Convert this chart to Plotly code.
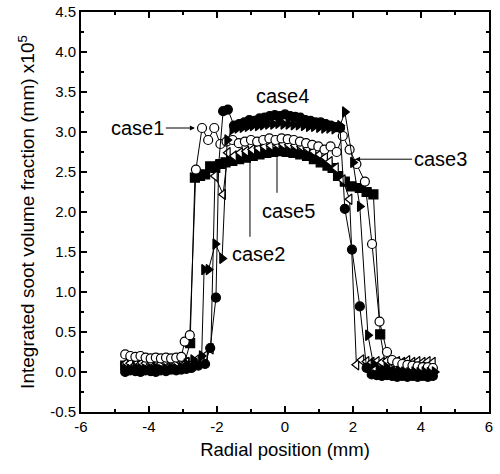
import plotly.graph_objects as go

# Radial profiles of integrated soot volume fraction, (mm) x10^5
case1_x = [-4.70, -4.55, -4.40, -4.25, -4.10, -3.95, -3.80, -3.65, -3.50, -3.35, -3.20, -3.05,
           -2.95, -2.80, -2.62, -2.44, -2.26, -2.08, -1.90, -1.72, -1.54, -1.36, -1.18, -1.00,
           -0.82, -0.64, -0.46, -0.28, -0.10, 0.08, 0.26, 0.44, 0.62, 0.80, 0.98, 1.16, 1.34,
           1.52, 1.70, 1.90, 2.10, 2.35, 2.56, 2.78, 3.00, 3.15, 3.30, 3.45, 3.60, 3.75, 3.90,
           4.05, 4.20, 4.35]
case1_y = [0.22, 0.20, 0.19, 0.20, 0.18, 0.17, 0.18, 0.17, 0.18, 0.17, 0.18, 0.19,
           0.38, 0.46, 2.53, 3.05, 2.90, 3.05, 2.85, 2.88, 2.90, 2.86, 2.88, 2.90,
           2.88, 2.90, 2.92, 2.90, 2.92, 2.91, 2.90, 2.88, 2.86, 2.84, 2.82, 2.78, 2.82,
           2.75, 2.95, 2.78, 2.60, 2.38, 1.60, 0.63, 0.25, 0.15, 0.12, 0.10, 0.09, 0.08, 0.07,
           0.06, 0.06, 0.05]

case2_x = [-4.70, -4.55, -4.40, -4.25, -4.10, -3.95, -3.80, -3.65, -3.50, -3.35, -3.20, -3.05,
           -2.90, -2.70, -2.45, -2.38, -2.25, -2.05, -1.85, -1.70, -1.55, -1.40, -1.25, -1.10,
           -0.95, -0.80, -0.65, -0.50, -0.35, -0.20, -0.05, 0.10, 0.25, 0.40, 0.55, 0.70, 0.85,
           1.00, 1.15, 1.30, 1.45, 1.62, 1.76, 2.00, 2.20, 2.44, 2.60, 2.75, 2.90, 3.05, 3.20,
           3.35, 3.50, 3.65, 3.80, 3.95, 4.10, 4.25, 4.40]
case2_y = [0.04, 0.03, 0.05, 0.04, 0.03, 0.04, 0.05, 0.03, 0.04, 0.05, 0.04, 0.06,
           0.10, 0.15, 0.20, 1.28, 1.28, 1.60, 1.42, 2.90, 3.03, 3.05, 3.06, 3.07,
           3.08, 3.08, 3.09, 3.10, 3.10, 3.11, 3.10, 3.10, 3.09, 3.09, 3.08, 3.07, 3.07,
           3.06, 3.05, 3.05, 3.04, 3.08, 3.25, 2.62, 2.07, 0.46, 0.10, 0.03, 0.02, 0.01, 0.00,
           0.01, 0.00, -0.01, 0.00, -0.01, 0.00, -0.01, 0.00]

case3_x = [-4.70, -4.55, -4.40, -4.25, -4.10, -3.95, -3.80, -3.65, -3.50, -3.35, -3.20, -3.05,
           -2.95, -2.79, -2.65, -2.50, -2.35, -2.20, -2.05, -1.90, -1.75, -1.55, -1.35, -1.15,
           -0.95, -0.75, -0.55, -0.35, -0.15, 0.05, 0.25, 0.45, 0.65, 0.85, 1.05, 1.25, 1.40,
           1.56, 1.76, 1.95, 2.20, 2.40, 2.60, 2.80, 2.95, 3.10, 3.25, 3.40, 3.55, 3.70, 3.85,
           4.00, 4.15, 4.30]
case3_y = [0.08, 0.07, 0.09, 0.08, 0.07, 0.08, 0.09, 0.08, 0.07, 0.08, 0.09, 0.10,
           0.12, 0.36, 2.43, 2.45, 2.47, 2.57, 2.55, 2.60, 2.62, 2.64, 2.66, 2.68,
           2.70, 2.72, 2.74, 2.75, 2.76, 2.75, 2.74, 2.72, 2.70, 2.66, 2.62, 2.58, 2.55,
           2.45, 2.38, 2.32, 2.30, 2.25, 2.22, 0.47, 0.10, 0.00, -0.02, -0.01, -0.02, -0.03, -0.02,
           -0.03, -0.02, -0.03]

case4_x = [-4.70, -4.55, -4.40, -4.25, -4.10, -3.95, -3.80, -3.65, -3.50, -3.35, -3.20, -3.05,
           -2.90, -2.75, -2.55, -2.35, -2.20, -2.03, -1.95, -1.82, -1.68, -1.50, -1.35, -1.20,
           -1.05, -0.90, -0.75, -0.60, -0.45, -0.30, -0.15, 0.00, 0.15, 0.30, 0.45, 0.60, 0.75,
           0.90, 1.05, 1.20, 1.35, 1.50, 1.62, 1.76, 1.97, 2.20, 2.40, 2.55, 2.70, 2.85, 3.00,
           3.15, 3.30, 3.45, 3.60, 3.75, 3.90, 4.05, 4.20, 4.35]
case4_y = [0.00, 0.02, 0.01, 0.00, 0.02, 0.01, 0.00, 0.02, 0.01, 0.03, 0.02, 0.03,
           0.04, 0.05, 0.08, 0.10, 0.30, 0.93, 2.60, 3.26, 3.28, 3.08, 3.10, 3.12,
           3.15, 3.14, 3.17, 3.18, 3.20, 3.21, 3.20, 3.22, 3.20, 3.19, 3.18, 3.15, 3.14,
           3.12, 3.12, 3.10, 3.08, 3.06, 3.05, 2.04, 1.53, 0.82, 0.05, -0.03, -0.04, -0.05, -0.04,
           -0.05, -0.06, -0.05, -0.06, -0.05, -0.06, -0.05, -0.06, -0.05]

case5_x = [-4.70, -4.55, -4.40, -4.25, -4.10, -3.95, -3.80, -3.65, -3.50, -3.35, -3.20, -3.05,
           -2.90, -2.60, -2.35, -2.18, -2.06, -1.82, -1.68, -1.50, -1.32, -1.14, -0.96, -0.78,
           -0.60, -0.42, -0.24, -0.06, 0.12, 0.30, 0.48, 0.66, 0.84, 1.02, 1.18, 1.32, 1.50,
           1.70, 1.90, 2.10, 2.25, 2.40, 2.55, 2.70, 2.85, 3.00, 3.15, 3.30, 3.45, 3.60, 3.75,
           3.90, 4.05, 4.20, 4.35]
case5_y = [0.10, 0.11, 0.09, 0.10, 0.11, 0.10, 0.09, 0.10, 0.11, 0.10, 0.11, 0.12,
           0.12, 0.15, 0.20, 0.29, 2.45, 2.22, 2.74, 2.70, 2.74, 2.76, 2.78, 2.80,
           2.82, 2.83, 2.85, 2.85, 2.84, 2.83, 2.82, 2.80, 2.76, 2.72, 2.68, 2.63, 2.55,
           2.40, 2.16, 0.09, 0.15, 0.13, 0.12, 0.13, 0.12, 0.14, 0.12, 0.13, 0.12, 0.14, 0.12,
           0.13, 0.12, 0.13, 0.12]

x_ticks = [-6, -4, -2, 0, 2, 4, 6]
x_tick_text = ["-6", "-4", "-2", "0", "2", "4", "6"]
y_ticks = [-0.5, 0.0, 0.5, 1.0, 1.5, 2.0, 2.5, 3.0, 3.5, 4.0, 4.5]
y_tick_text = ["-0.5", "0.0", "0.5", "1.0", "1.5", "2.0", "2.5", "3.0", "3.5", "4.0", "4.5"]

FONT = "Liberation Sans, Arial, sans-serif"

series = [
    ("case3", case3_x, case3_y, "square", "black"),
    ("case5", case5_x, case5_y, "triangle-left", "white"),
    ("case1", case1_x, case1_y, "circle", "white"),
    ("case2", case2_x, case2_y, "triangle-right", "black"),
    ("case4", case4_x, case4_y, "circle", "black"),
]

fig = go.Figure()
for name, xs, ys, sym, fill in series:
    fig.add_trace(go.Scatter(
        x=xs, y=ys, name=name, mode="lines+markers",
        line=dict(color="black", width=1),
        marker=dict(symbol=sym, size=9, color=fill,
                    line=dict(color="black", width=1.2)),
        showlegend=False,
    ))

label_font = dict(family=FONT, size=20, color="black")

# Case labels; case1 and case3 carry pointer arrows to their curves
fig.add_annotation(x=-2.65, y=3.05, ax=-57, ay=0, text="case1", showarrow=True,
                   arrowhead=2, arrowsize=1, arrowwidth=1, arrowcolor="black",
                   font=label_font)
fig.add_annotation(x=2.06, y=2.66, ax=85, ay=0, text="case3", showarrow=True,
                   arrowhead=2, arrowsize=1, arrowwidth=1, arrowcolor="black",
                   font=label_font)
fig.add_annotation(x=-0.06, y=3.45, text="case4", showarrow=False, font=label_font)
fig.add_annotation(x=-0.79, y=1.47, text="case2", showarrow=False, font=label_font)
fig.add_annotation(x=0.09, y=2.01, text="case5", showarrow=False, font=label_font)

# Leader lines
fig.add_shape(type="line", x0=-1.03, x1=-1.03, y0=1.69, y1=2.68,
              line=dict(color="black", width=1))
fig.add_shape(type="line", x0=-0.235, x1=-0.235, y0=2.24, y1=2.76,
              line=dict(color="black", width=1))

axis_common = dict(
    showline=True, linecolor="black", linewidth=2, mirror="ticks",
    ticks="inside", ticklen=6, tickwidth=1.5, tickcolor="black",
    showgrid=False, zeroline=False,
    tickfont=dict(family=FONT, size=15, color="black"),
)

fig.update_xaxes(
    range=[-6, 6], tickvals=x_ticks, ticktext=x_tick_text,
    minor=dict(ticks="inside", ticklen=3, dtick=1, tick0=0, tickcolor="black",
               showgrid=False),
    title=dict(text="Radial position (mm)", font=dict(family=FONT, size=18.5, color="black"),
               standoff=9),
    **axis_common,
)
fig.update_yaxes(
    range=[-0.5, 4.5], tickvals=y_ticks, ticktext=y_tick_text,
    minor=dict(ticks="inside", ticklen=3, dtick=0.25, tick0=0, tickcolor="black",
               showgrid=False),
    title=dict(text="Integrated soot volume fraction (mm) x10<sup>5</sup>",
               font=dict(family=FONT, size=19, color="black"), standoff=10),
    **axis_common,
)

fig.update_layout(
    width=500, height=474,
    margin=dict(l=81, r=11, t=12, b=62, autoexpand=False),
    paper_bgcolor="white", plot_bgcolor="white",
)

fig.write_html("out.html")
